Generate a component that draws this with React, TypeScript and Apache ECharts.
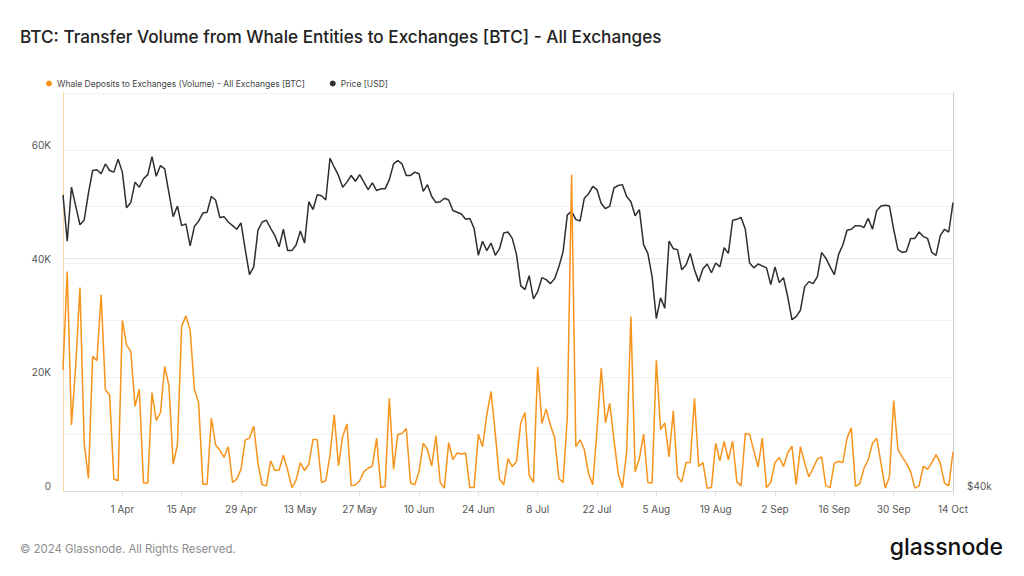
import React, { useEffect, useRef } from "react";
import * as echarts from "echarts";

// Daily data from 18 Mar 2024 to 14 Oct 2024
const START = { year: 2024, month: 2, day: 18 };
const MONTHS = ["Jan", "Feb", "Mar", "Apr", "May", "Jun", "Jul", "Aug", "Sep", "Oct", "Nov", "Dec"];

// Whale deposits to exchanges, thousands of BTC
const volumeK = [
  21.3, 38.6, 11.6, 22.0, 35.8, 8.4, 2.2, 23.7, 22.9, 34.5,
  17.8, 16.9, 2.1, 1.8, 30.0, 25.7, 24.5, 14.9, 17.9, 1.4,
  1.4, 17.3, 12.4, 13.8, 21.9, 18.5, 4.7, 8.1, 29.0, 30.8,
  28.3, 17.9, 15.5, 1.2, 1.2, 12.8, 8.1, 7.2, 5.9, 7.8,
  1.5, 2.1, 3.8, 9.0, 9.3, 11.4, 4.9, 1.1, 0.9, 5.3,
  3.6, 3.7, 6.3, 3.7, 0.6, 1.9, 5.0, 3.6, 4.7, 9.1,
  9.0, 1.5, 1.8, 6.3, 13.4, 4.4, 9.6, 11.8, 0.9, 1.1,
  1.8, 3.4, 4.0, 4.4, 9.3, 0.6, 0.8, 16.3, 3.8, 10.0,
  10.1, 11.0, 1.4, 1.1, 3.4, 8.4, 7.3, 4.4, 9.7, 1.5,
  0.5, 8.5, 5.5, 6.7, 6.5, 6.7, 0.6, 0.6, 10.0, 7.8,
  13.4, 17.5, 10.1, 2.1, 1.1, 5.7, 4.3, 5.2, 11.9, 13.8,
  2.8, 1.5, 21.8, 11.9, 14.4, 11.6, 9.4, 2.2, 1.5, 13.1,
  55.6, 7.8, 9.0, 7.3, 3.1, 1.1, 10.7, 21.6, 12.0, 15.4,
  9.0, 3.1, 0.6, 6.9, 30.7, 3.4, 5.7, 10.0, 1.5, 1.4,
  23.0, 10.8, 12.0, 6.0, 14.1, 2.5, 1.6, 5.0, 5.0, 16.3,
  4.3, 5.0, 0.5, 0.6, 8.4, 5.3, 8.7, 5.5, 8.8, 1.6,
  0.9, 10.1, 10.0, 7.1, 4.2, 9.3, 0.6, 1.5, 5.0, 5.9,
  4.3, 6.7, 7.9, 1.1, 7.8, 4.9, 2.5, 4.0, 5.6, 6.0,
  0.9, 0.6, 4.9, 5.2, 5.0, 9.3, 11.1, 0.8, 1.3, 4.0,
  5.5, 8.4, 9.3, 4.9, 0.5, 2.5, 15.9, 7.3, 6.0, 4.9,
  3.4, 0.5, 0.9, 4.4, 3.8, 5.0, 6.4, 4.9, 1.4, 0.9,
  6.9,
];

// BTC price, thousands of USD
const priceK = [
  67.0, 61.8, 67.9, 65.7, 63.6, 64.1, 67.2, 69.9, 70.0, 69.5,
  70.7, 69.9, 69.7, 71.3, 69.7, 65.5, 66.1, 68.5, 67.9, 68.9,
  69.4, 71.6, 69.2, 70.5, 70.1, 67.2, 64.5, 65.7, 63.5, 63.7,
  61.3, 63.4, 64.0, 64.9, 65.0, 66.8, 66.4, 64.4, 64.5, 63.9,
  63.5, 63.1, 63.8, 60.9, 58.3, 59.1, 63.0, 63.9, 64.1, 63.2,
  62.4, 61.2, 63.1, 60.8, 60.8, 61.4, 62.9, 61.6, 66.2, 65.3,
  67.0, 66.9, 66.4, 71.4, 70.3, 69.3, 67.9, 68.5, 69.3, 68.6,
  69.4, 68.5, 67.6, 68.4, 67.5, 67.7, 67.7, 68.8, 70.7, 71.1,
  70.7, 69.3, 69.3, 69.7, 69.5, 67.4, 68.2, 66.8, 66.1, 66.2,
  66.6, 66.4, 65.2, 65.0, 64.8, 64.2, 64.3, 63.2, 60.3, 61.8,
  60.8, 61.6, 60.3, 61.0, 62.7, 62.8, 62.1, 60.4, 57.2, 56.8,
  58.2, 55.9, 56.6, 58.0, 57.8, 57.4, 57.9, 59.1, 60.7, 64.7,
  65.1, 64.2, 64.0, 66.6, 67.1, 68.0, 67.6, 66.0, 65.4, 65.7,
  67.8, 68.1, 68.2, 66.8, 66.2, 64.6, 65.3, 61.4, 60.5, 58.1,
  54.0, 56.0, 55.0, 61.8, 61.0, 60.9, 58.8, 59.3, 60.5, 58.8,
  57.6, 58.9, 59.4, 58.5, 59.5, 59.1, 61.1, 60.5, 64.1, 64.2,
  64.4, 63.1, 59.5, 59.0, 59.4, 59.2, 59.0, 57.3, 59.1, 57.5,
  58.0, 56.1, 53.9, 54.2, 54.8, 57.1, 57.6, 57.4, 58.1, 60.6,
  60.0, 59.1, 58.3, 60.4, 61.4, 63.0, 63.1, 63.5, 63.5, 63.3,
  64.3, 63.1, 65.2, 65.7, 65.8, 65.7, 63.1, 60.9, 60.6, 60.7,
  62.1, 62.1, 62.8, 62.3, 62.1, 60.6, 60.3, 62.4, 63.1, 62.8,
  66.1,
];

const volumeTicks = [0, 20, 40, 60];
const priceTickLabel = 40;

const categories: string[] = volumeK.map((_, i) => {
  const d = new Date(START.year, START.month, START.day + i);
  return `${d.getDate()} ${MONTHS[d.getMonth()]}`;
});

const FONT = "Inter, 'Noto Sans', sans-serif";
const ORANGE = "#f7931a";
const BLACK = "#2e2e2e";

const showEvery14 = (index: number) => index >= 14 && (index - 14) % 14 === 0;

export default function App() {
  const ref = useRef<HTMLDivElement>(null);

  useEffect(() => {
    if (!ref.current) return;
    const chart = echarts.init(ref.current, undefined, { renderer: "svg" });
    chart.setOption({
      animation: false,
      backgroundColor: "#ffffff",
      textStyle: { fontFamily: FONT },
      graphic: [
        {
          type: "text",
          left: 20,
          top: 28,
          style: {
            text: "BTC: Transfer Volume from Whale Entities to Exchanges [BTC] - All Exchanges",
            font: `500 17.2px ${FONT}`,
            fill: "#222222",
          },
        },
        {
          type: "text",
          left: 20,
          top: 543,
          style: {
            text: "© 2024 Glassnode. All Rights Reserved.",
            font: `400 11.4px ${FONT}`,
            fill: "#8c8c8c",
          },
        },
        {
          type: "text",
          right: 21,
          top: 535,
          style: {
            text: "glassnode",
            font: `500 23px ${FONT}`,
            fill: "#111111",
          },
        },
      ],
      legend: {
        top: 79,
        left: 46,
        icon: "circle",
        itemWidth: 6,
        itemHeight: 6,
        itemGap: 25,
        padding: 0,
        textStyle: { fontSize: 8.5, color: "#444", fontFamily: FONT },
        data: [
          "Whale Deposits to Exchanges (Volume) - All Exchanges [BTC]",
          "Price [USD]",
        ],
      },
      grid: { left: 63, right: 71, top: 93, bottom: 85, containLabel: false },
      xAxis: {
        type: "category",
        boundaryGap: false,
        data: categories,
        axisLine: { show: true, lineStyle: { color: "#dddddd", width: 1 } },
        axisTick: { show: true, interval: showEvery14, length: 5, lineStyle: { color: "#dddddd" } },
        axisLabel: {
          interval: showEvery14,
          color: "#555",
          fontSize: 10,
          margin: 13,
          fontFamily: FONT,
        },
        splitLine: { show: false },
      },
      yAxis: [
        {
          type: "value",
          min: 0,
          max: 70,
          interval: 10,
          position: "left",
          axisLine: { show: true, lineStyle: { color: "#fbd3a4", width: 1 } },
          axisTick: { show: false },
          splitLine: { show: true, lineStyle: { color: "#f1f1f1", width: 1 } },
          axisLabel: {
            color: "#555",
            fontSize: 10,
            margin: 12,
            fontFamily: FONT,
            verticalAlign: "bottom",
            padding: [0, 0, 0, 0],
            formatter: (v: number) =>
              volumeTicks.includes(Math.round(v)) ? (v === 0 ? "0" : `${v}K`) : "",
          },
        },
        {
          type: "log",
          logBase: 10,
          min: 40,
          max: 80,
          position: "right",
          axisLine: { show: true, lineStyle: { color: "#cccccc", width: 1 } },
          axisTick: { show: false },
          splitLine: { show: false },
          axisLabel: {
            color: "#555",
            fontSize: 10,
            margin: 14,
            fontFamily: FONT,
            verticalAlign: "bottom",
            showMinLabel: true,
            formatter: (v: number) =>
              Math.abs(v - priceTickLabel) < 0.5 ? `$${priceTickLabel}k` : "",
          },
        },
      ],
      series: [
        {
          name: "Price [USD]",
          type: "line",
          yAxisIndex: 1,
          data: priceK,
          showSymbol: false,
          symbol: "circle",
          z: 2,
          itemStyle: { color: BLACK },
          lineStyle: { color: BLACK, width: 1.5 },
          markLine: {
            silent: true,
            symbol: "none",
            z: 1,
            label: { show: false },
            lineStyle: { color: "#ececec", type: "solid", width: 1 },
            data: [{ yAxis: 60 }],
          },
        },
        {
          name: "Whale Deposits to Exchanges (Volume) - All Exchanges [BTC]",
          type: "line",
          yAxisIndex: 0,
          data: volumeK,
          showSymbol: false,
          symbol: "circle",
          z: 3,
          itemStyle: { color: ORANGE },
          lineStyle: { color: ORANGE, width: 1.5 },
        },
      ],
    });
    return () => chart.dispose();
  }, []);

  return (
    <div
      ref={ref}
      style={{ position: "fixed", left: 0, top: 0, width: 1024, height: 576, background: "#fff" }}
    />
  );
}
